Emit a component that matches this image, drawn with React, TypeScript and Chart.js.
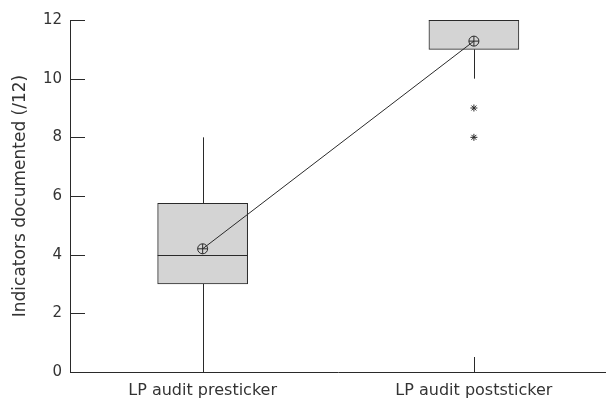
import React, { useEffect, useRef } from "react";
import { Chart, registerables } from "chart.js";

Chart.register(...registerables);

const categories = ["LP audit presticker", "LP audit poststicker"];
const categoryIndex = [0, 1];
const q1Values = [3, 11];
const q3Values = [5.75, 12];
const medianValues = [4, 12];
const whiskerMin = [0, 10];
const whiskerMax = [8, 12];
const meanValues = [4.2, 11.28];
const outlierCategory = [1, 1];
const outlierValues = [9, 8];
const yTicks = [0, 2, 4, 6, 8, 10, 12];
const xRange = [-0.489, 1.487];

const FONT = "'DejaVu Sans', sans-serif";
const INK = "#2a2a2a";
const TEXT = "#333333";

const boxPlugin = {
  id: "boxParts",
  beforeDatasetDraw(chart: any, args: any) {
    if (args.index !== 2) return;
    const { ctx } = chart;
    const x = chart.scales.x;
    const y = chart.scales.y;
    ctx.save();
    ctx.strokeStyle = INK;
    ctx.lineWidth = 1;
    categoryIndex.forEach((c, i) => {
      const px = Math.round(x.getPixelForValue(c)) + 0.5;
      ctx.beginPath();
      ctx.moveTo(px, y.getPixelForValue(whiskerMax[i]));
      ctx.lineTo(px, y.getPixelForValue(q3Values[i]));
      ctx.moveTo(px, y.getPixelForValue(q1Values[i]));
      ctx.lineTo(px, y.getPixelForValue(whiskerMin[i]));
      ctx.stroke();
    });
    ctx.restore();
  },
  afterDatasetDraw(chart: any, args: any) {
    if (args.index !== 2) return;
    const { ctx } = chart;
    const meta = chart.getDatasetMeta(2);
    const y = chart.scales.y;
    ctx.save();
    ctx.strokeStyle = INK;
    ctx.lineWidth = 1;
    meta.data.forEach((bar: any, i: number) => {
      const half = bar.width / 2;
      const py = Math.round(y.getPixelForValue(medianValues[i])) + 0.5;
      ctx.beginPath();
      ctx.moveTo(bar.x - half, py);
      ctx.lineTo(bar.x + half, py);
      ctx.stroke();
    });
    ctx.restore();
  },
  afterDraw(chart: any) {
    const { ctx, chartArea } = chart;
    const x = chart.scales.x;
    const y = chart.scales.y;
    ctx.save();
    ctx.strokeStyle = INK;
    ctx.lineWidth = 1;
    ctx.beginPath();
    y.ticks.forEach((t: any) => {
      const py = Math.round(y.getPixelForValue(t.value)) + 0.5;
      ctx.moveTo(chartArea.left, py);
      ctx.lineTo(chartArea.left + 15, py);
    });
    categoryIndex.forEach((c) => {
      const px = Math.round(x.getPixelForValue(c)) + 0.5;
      ctx.moveTo(px, chartArea.bottom);
      ctx.lineTo(px, chartArea.bottom - 15);
    });
    ctx.stroke();
    ctx.restore();
  },
};

export default function App() {
  const ref = useRef<HTMLCanvasElement>(null);
  useEffect(() => {
    if (!ref.current) return;
    const chart = new Chart(ref.current, {
      type: "bar",
      data: {
        datasets: [
          {
            type: "line",
            label: "Mean",
            data: meanValues.map((v, i) => ({ x: categoryIndex[i], y: v })),
            borderColor: INK,
            borderWidth: 1,
            backgroundColor: "transparent",
            pointStyle: "circle",
            pointRadius: 5,
            pointBorderWidth: 1,
            pointBorderColor: INK,
            pointBackgroundColor: "transparent",
            fill: false,
          } as any,
          {
            type: "scatter",
            label: "Mean cross",
            data: meanValues.map((v, i) => ({ x: categoryIndex[i], y: v })),
            pointStyle: "cross",
            pointRadius: 5,
            borderColor: INK,
            borderWidth: 1,
            showLine: false,
          } as any,
          {
            type: "bar",
            label: "Box",
            data: q1Values.map((v, i) => ({ x: categoryIndex[i], y: [v, q3Values[i]] })),
            backgroundColor: "#d4d4d4",
            borderColor: INK,
            borderWidth: 1,
            borderSkipped: false,
            barThickness: 90,
          } as any,
          {
            type: "scatter",
            label: "Outliers",
            data: outlierValues.map((v, i) => ({ x: outlierCategory[i], y: v })),
            pointStyle: "star",
            pointRadius: 3.5,
            borderColor: INK,
            borderWidth: 1,
          } as any,
        ],
      },
      options: {
        animation: false,
        responsive: false,
        layout: { autoPadding: false, padding: { top: 20, right: 0, bottom: 0, left: 0 } },
        plugins: {
          legend: { display: false },
          tooltip: { enabled: false },
        },
        scales: {
          x: {
            type: "linear",
            min: xRange[0],
            max: xRange[1],
            offset: false,
            grid: { display: false, drawTicks: false },
            border: { display: true, color: INK, width: 1 },
            afterBuildTicks: (s: any) => {
              s.ticks = categoryIndex.map((v) => ({ value: v }));
            },
            ticks: {
              color: TEXT,
              font: { family: FONT, size: 16 },
              padding: 9,
              maxRotation: 0,
              autoSkip: false,
              callback: (v: any) => categories[Math.round(Number(v))] ?? "",
            },
            afterFit: (s: any) => {
              s.height = 26;
              s.paddingLeft = 0;
              s.paddingRight = 0;
            },
          },
          y: {
            type: "linear",
            min: 0,
            max: 12,
            grid: { display: false, drawTicks: false },
            border: { display: true, color: INK, width: 1 },
            afterBuildTicks: (s: any) => {
              s.ticks = yTicks.map((v) => ({ value: v }));
            },
            ticks: {
              color: TEXT,
              font: { family: FONT, size: 15 },
              padding: 8,
            },
            title: {
              display: true,
              text: "Indicators documented (/12)",
              color: TEXT,
              font: { family: FONT, size: 17 },
              padding: { top: 10, bottom: 0 },
            },
            afterFit: (s: any) => {
              s.width = 70;
              s.paddingTop = 0;
              s.paddingBottom = 0;
            },
          },
        },
      },
      plugins: [boxPlugin],
    });
    return () => chart.destroy();
  }, []);
  return (
    <div style={{ position: "absolute", left: 0, top: 0, width: 606, height: 398, background: "#fff" }}>
      <canvas ref={ref} width={606} height={398} style={{ display: "block" }} />
    </div>
  );
}
